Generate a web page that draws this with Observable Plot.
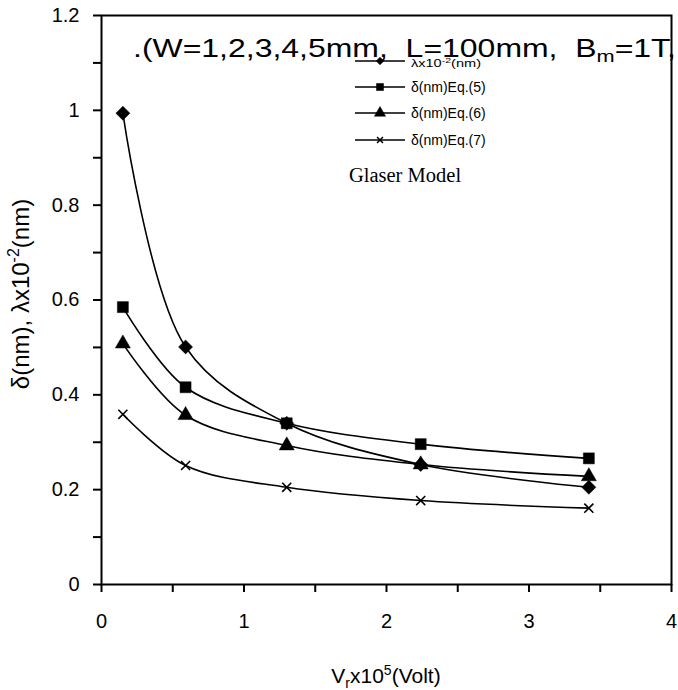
<!DOCTYPE html>
<html><head><meta charset="utf-8">
<script src="https://cdn.jsdelivr.net/npm/d3@7"></script>
<script src="https://cdn.jsdelivr.net/npm/@observablehq/plot@0.6"></script>
<style>body{margin:0;background:#fff;}</style>
</head><body><div id="chart"></div>
<script>
// Data
const voltage = [0.15, 0.59, 1.30, 2.24, 3.42];           // Vr x10^5 (Volt)
const lambdaVals = [0.994, 0.501, 0.340, 0.253, 0.205];  // λx10^-2 (nm)
const eq5Vals = [0.585, 0.416, 0.340, 0.296, 0.266];     // δ(nm) Eq.(5)
const eq6Vals = [0.508, 0.357, 0.293, 0.253, 0.228];     // δ(nm) Eq.(6)
const eq7Vals = [0.359, 0.251, 0.205, 0.177, 0.161];     // δ(nm) Eq.(7)
const seriesNames = ["λx10-2(nm)", "δ(nm)Eq.(5)", "δ(nm)Eq.(6)", "δ(nm)Eq.(7)"];
const xTicks = [0, 0.5, 1, 1.5, 2, 2.5, 3, 3.5, 4];
const yTicks = [0, 0.1, 0.2, 0.3, 0.4, 0.5, 0.6, 0.7, 0.8, 0.9, 1, 1.1, 1.2];

const seriesVals = [lambdaVals, eq5Vals, eq6Vals, eq7Vals];
const rows = seriesNames.flatMap((name, i) => voltage.map((v, j) => ({series: name, V: v, value: seriesVals[i][j]})));

const diamondSym = {draw(ctx, size) { const r = Math.sqrt(size / 2); ctx.moveTo(0, -r); ctx.lineTo(r, 0); ctx.lineTo(0, r); ctx.lineTo(-r, 0); ctx.closePath(); }};
const symbols = [diamondSym, d3.symbolSquare, d3.symbolTriangle, d3.symbolTimes];
const radii = [5.6, 6.2, 5.6, 4.2];
const filled = [true, true, true, false];

const fmtY = d => (Math.round(d * 10) % 2 === 0) ? String(+d.toFixed(1)) : "";
const fmtX = d => Number.isInteger(d) ? String(d) : "";
const SANS = "'Liberation Sans', Arial, sans-serif";

const chart = Plot.plot({
  width: 678, height: 690,
  marginLeft: 101, marginRight: 7, marginTop: 15, marginBottom: 106,
  style: {fontFamily: SANS, fontSize: "20px", color: "#000", background: "#fff", overflow: "visible"},
  x: {domain: [0, 4]},
  y: {domain: [0, 1.2]},
  marks: [
    Plot.frame({stroke: "#000", strokeWidth: 2}),
    Plot.axisX({ticks: xTicks, tickFormat: fmtX, tickSize: 8, tickPadding: 21, strokeWidth: 2, label: null}),
    Plot.axisY({ticks: yTicks, tickFormat: fmtY, tickSize: 8, tickPadding: 14, strokeWidth: 2, label: null}),
    Plot.line(rows, {x: "V", y: "value", z: "series", curve: "catmull-rom", stroke: "#000", strokeWidth: 1.6}),
    ...seriesNames.map((name, i) => Plot.dot(rows.filter(d => d.series === name), {
      x: "V", y: "value", symbol: symbols[i], r: radii[i],
      fill: filled[i] ? "#000" : "none", stroke: "#000", strokeWidth: filled[i] ? 0.5 : 1.6
    }))
  ]
});

const svg = d3.select(chart);

// Title annotation
const title = svg.append("text").attr("x", 133).attr("y", 57).attr("text-anchor", "start")
  .attr("font-family", SANS).attr("font-size", 25)
  .attr("textLength", 543).attr("lengthAdjust", "spacingAndGlyphs");
title.append("tspan").text(".(W=1,2,3,4,5mm,  L=100mm,  B");
title.append("tspan").attr("font-size", 17).attr("dy", 5).text("m");
title.append("tspan").attr("dy", -5).text("=1T,");

// Legend
const legY = [61, 87, 113, 140];
const legend = svg.append("g");
seriesNames.forEach((name, i) => {
  const g = legend.append("g").attr("transform", `translate(0,${legY[i]})`);
  g.append("line").attr("x1", 355).attr("x2", 405).attr("y1", 0).attr("y2", 0).attr("stroke", "#000").attr("stroke-width", 1.6);
  const s = i === 0 ? 30 : i === 1 ? 50 : i === 2 ? 55 : 25;
  g.append("path").attr("transform", "translate(380,0)").attr("d", d3.symbol(symbols[i], s)())
    .attr("fill", filled[i] ? "#000" : "none").attr("stroke", "#000").attr("stroke-width", filled[i] ? 0.5 : 1.5);
  const t = g.append("text").attr("x", 411).attr("y", i === 0 ? 6 : 5).attr("text-anchor", "start")
    .attr("font-family", SANS).attr("font-size", i === 0 ? 11 : 14);
  if (i === 0) {
    t.attr("textLength", 70).attr("lengthAdjust", "spacingAndGlyphs");
    t.append("tspan").text("λx10");
    t.append("tspan").attr("dy", -4).attr("font-size", 8).text("-2");
    t.append("tspan").attr("dy", 4).text("(nm)");
  } else {
    t.text(name);
  }
});

svg.append("text").attr("x", 405).attr("y", 182).attr("text-anchor", "middle")
  .attr("font-family", "'Liberation Serif', 'Times New Roman', serif").attr("font-size", 20.5).text("Glaser Model");

// Axis titles
const xl = svg.append("text").attr("x", 386).attr("y", 683).attr("text-anchor", "middle")
  .attr("font-family", SANS).attr("font-size", 21);
xl.append("tspan").text("V");
xl.append("tspan").attr("dy", 5).attr("font-size", 14).text("r");
xl.append("tspan").attr("dy", -5).text("x10");
xl.append("tspan").attr("dy", -8).attr("font-size", 14).text("5");
xl.append("tspan").attr("dy", 8).text("(Volt)");

const yl = svg.append("text").attr("transform", "translate(29,294) rotate(-90)").attr("text-anchor", "middle")
  .attr("font-family", SANS).attr("font-size", 24);
yl.append("tspan").text("δ(nm), λx10");
yl.append("tspan").attr("dy", -10).attr("font-size", 16).text("-2");
yl.append("tspan").attr("dy", 10).text("(nm)");

document.getElementById("chart").appendChild(chart);
</script>
</body></html>
